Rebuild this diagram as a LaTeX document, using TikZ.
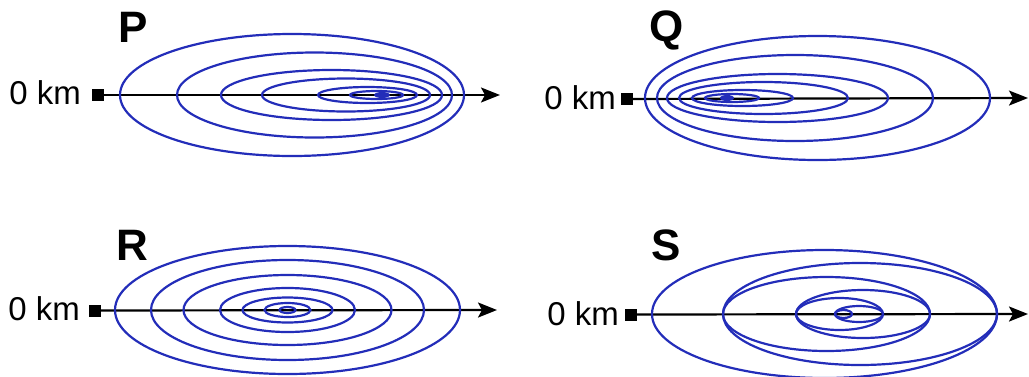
\documentclass[tikz,border=0pt]{standalone}
\usepackage{fontspec}
\setmainfont{Liberation Sans}
\usepackage{xcolor}
\usetikzlibrary{arrows.meta}
\definecolor{isoblue}{RGB}{35,45,185}
\tikzset{
  iso/.style={isoblue, line width=2.2pt},
  asse/.style={line width=2.2pt, -{Stealth[length=19pt,width=15pt,inset=4pt]}},
  origine/.style={fill=black, minimum size=12pt, inner sep=0pt},
  km/.style={font=\fontsize{33}{36}\selectfont, inner sep=0pt, anchor=base east},
  lettera/.style={font=\fontsize{44}{46}\selectfont\bfseries, inner sep=0pt, anchor=base west}
}
\begin{document}
\begin{tikzpicture}[x=1pt, y=-1pt, >=Latex]
  \useasboundingbox (0,0) rectangle (1029,376);

  % Pannello P
  \node[lettera] (labP) at (118,42) {P};
  \node[km] (kmP) at (81,104) {0 km};
  \node[origine] (oP) at (98,95) {};
  \coordinate (tipP) at (500,95);
  \draw[asse] (oP) -- (tipP);
  \foreach \a/\b/\r in {120/464/61, 177/452/42.5, 221/442/25, 262/430/16.5,
                        318/417/8, 350/403/4}
    \draw[iso] ({(\a+\b)/2},95) ellipse [x radius={(\b-\a)/2}, y radius=\r];
  \fill[isoblue] (382,95) ellipse [x radius=8, y radius=3];

  % Pannello Q
  \node[lettera] (labQ) at (649,41) {Q};
  \node[km] (kmQ) at (616,109) {0 km};
  \node[origine] (oQ) at (627,99) {};
  \coordinate (tipQ) at (1028,98);
  \draw[asse] (oQ) -- (tipQ);
  \foreach \a/\b/\r in {645/990/62, 657/933/43, 667/888/24, 679/848/16,
                        692/793/8, 705/759/4}
    \draw[iso] ({(\a+\b)/2},98) ellipse [x radius={(\b-\a)/2}, y radius=\r];
  \fill[isoblue] (727,98) ellipse [x radius=7, y radius=3];

  % Pannello R
  \node[lettera] (labR) at (116,260) {R};
  \node[km] (kmR) at (80,320) {0 km};
  \node[origine] (oR) at (94.5,310.5) {};
  \coordinate (tipR) at (497,310);
  \draw[asse] (oR) -- (tipR);
  \foreach \rx/\r in {172.5/64, 136.5/50, 104/35, 67.5/22, 45/12.5, 23/7, 8/3}
    \draw[iso] (287.5,310) ellipse [x radius=\rx, y radius=\r];

  % Pannello S
  \node[lettera] (labS) at (651,260) {S};
  \node[km] (kmS) at (619,325) {0 km};
  \node[origine] (oS) at (631,314.5) {};
  \coordinate (tipS) at (1028,314);
  \draw[asse] (oS) -- (tipS);
  \foreach \a/\b/\r in {652/997/64, 723/997/51, 723/930/37, 796/930/24,
                        796/883/16, 835/883/8, 835/852/4}
    \draw[iso] ({(\a+\b)/2},314) ellipse [x radius={(\b-\a)/2}, y radius=\r];
\end{tikzpicture}
\end{document}
